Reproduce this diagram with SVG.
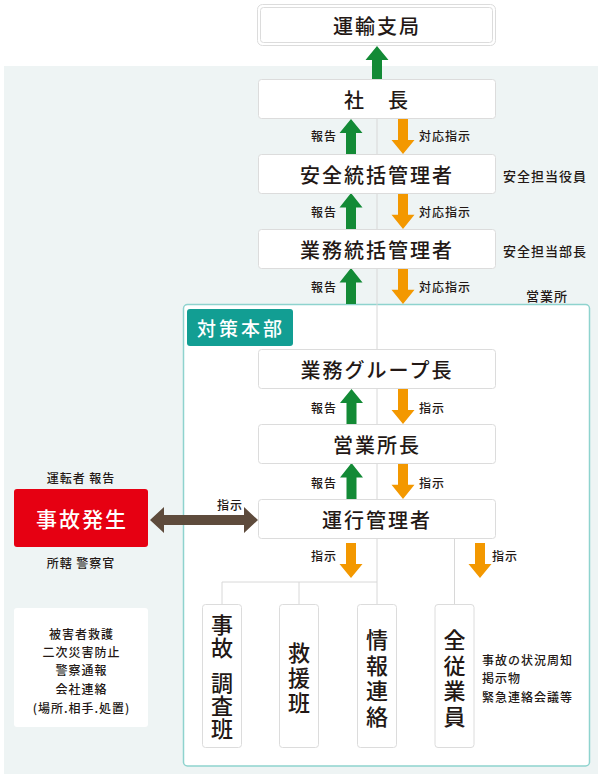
<svg xmlns="http://www.w3.org/2000/svg" width="602" height="780" viewBox="0 0 602 780">
<style>
text{font-family:"Noto Sans CJK JP","Noto Sans",sans-serif;fill:#231815}
.box{fill:#fff;stroke:#dcdcdc;stroke-width:1}
.t{font-size:20px;font-weight:500;letter-spacing:2px;text-anchor:middle;dominant-baseline:central}
.v{font-size:22px;font-weight:500;text-anchor:middle;dominant-baseline:central;writing-mode:vertical-rl;glyph-orientation-vertical:0}
.s{font-size:12px;font-weight:500;letter-spacing:1px;dominant-baseline:central}
.m{font-size:13px;font-weight:500;letter-spacing:1px;dominant-baseline:central}
.g{fill:#138a36}
.o{fill:#f39800}
.ln{stroke:#d8d8d8;stroke-width:1;fill:none}
</style>
<defs>
<path id="up" d="M0,0 L11.5,14 L5,14 L5,35 L-5,35 L-5,14 L-11.5,14 Z"/>
<path id="dn" d="M0,35 L11.5,21 L5,21 L5,0 L-5,0 L-5,21 L-11.5,21 Z"/>
</defs>
<rect x="4" y="66" width="594" height="708" fill="#eef4f4"/>
<g id="eigyosho">
<rect x="183.5" y="304.5" width="406" height="461.5" rx="4" fill="#fff" stroke="#8ed3ce" stroke-width="1.5"/>
<text class="m" x="526" y="295">営業所</text>
</g>
<g id="connectors">
<path class="ln" d="M377,118 V582 M222,604 V582 H377 V604 M299,582 V604 M454.5,538 V604"/>
<path class="g" d="M377,46 L388.5,60 L382,60 L382,79 L372,79 L372,60 L365.5,60 Z"/>
<use href="#up" class="g" transform="translate(351,119)"/>
<use href="#up" class="g" transform="translate(351,193) scale(1,1.03)"/>
<use href="#up" class="g" transform="translate(351,268) scale(1,1.03)"/>
<use href="#up" class="g" transform="translate(351.5,389)"/>
<use href="#up" class="g" transform="translate(351.5,463) scale(1,1.03)"/>
<use href="#dn" class="o" transform="translate(403,119)"/>
<use href="#dn" class="o" transform="translate(403,193) scale(1,1.03)"/>
<use href="#dn" class="o" transform="translate(403,268) scale(1,1.03)"/>
<use href="#dn" class="o" transform="translate(403,389)"/>
<use href="#dn" class="o" transform="translate(403,463) scale(1,1.03)"/>
<use href="#dn" class="o" transform="translate(351,543)"/>
<use href="#dn" class="o" transform="translate(480,543)"/>
<path fill="#5e4b3c" d="M150,520 L164,507 L164,515 L244,515 L244,507 L258,520 L244,533 L244,525 L164,525 L164,533 Z"/>
<text class="s" x="337" y="135" text-anchor="end">報告</text>
<text class="s" x="337" y="211" text-anchor="end">報告</text>
<text class="s" x="337" y="286" text-anchor="end">報告</text>
<text class="s" x="337" y="407" text-anchor="end">報告</text>
<text class="s" x="337" y="482" text-anchor="end">報告</text>
<text class="s" x="419" y="135">対応指示</text>
<text class="s" x="419" y="211">対応指示</text>
<text class="s" x="419" y="286">対応指示</text>
<text class="s" x="419" y="407">指示</text>
<text class="s" x="419" y="482">指示</text>
<text class="s" x="217" y="504">指示</text>
<text class="s" x="337" y="555" text-anchor="end">指示</text>
<text class="s" x="492" y="555">指示</text>
</g>
<g id="unyu">
<rect x="257.5" y="4.5" width="238" height="41" rx="5" fill="#fff" stroke="#dcdcdc"/>
<rect x="260.5" y="7.5" width="232" height="35" rx="3" fill="none" stroke="#dcdcdc"/>
<text class="t" x="377" y="25">運輸支局</text>
</g>
<g id="shacho">
<rect class="box" x="258.5" y="79.5" width="237" height="39" rx="3"/>
<text class="t" x="377" y="99">社　長</text>
</g>
<g id="anzen">
<rect class="box" x="258.5" y="154.5" width="237" height="39" rx="3"/>
<text class="t" x="377" y="174">安全統括管理者</text>
<text class="m" x="503" y="175">安全担当役員</text>
</g>
<g id="gyomu">
<rect class="box" x="258.5" y="229.5" width="237" height="39" rx="3"/>
<text class="t" x="377" y="249">業務統括管理者</text>
<text class="m" x="503" y="250">安全担当部長</text>
</g>
<g id="taisaku">
<rect x="187" y="309" width="106" height="37" rx="3" fill="#129e93"/>
<text class="t" x="241" y="327" style="fill:#fff;font-size:19px;letter-spacing:3px">対策本部</text>
</g>
<g id="group">
<rect class="box" x="258.5" y="349.5" width="237" height="39" rx="3"/>
<text class="t" x="377" y="369">業務グループ長</text>
</g>
<g id="shocho">
<rect class="box" x="258.5" y="424.5" width="237" height="39" rx="3"/>
<text class="t" x="377" y="444">営業所長</text>
</g>
<g id="unko">
<rect class="box" x="258.5" y="499.5" width="237" height="39" rx="3"/>
<text class="t" x="377" y="519">運行管理者</text>
</g>
<g id="jiko">
<rect x="14" y="489" width="134" height="58" rx="3" fill="#e60012"/>
<text class="t" x="82" y="518" style="fill:#fff;font-size:21px">事故発生</text>
<text class="s" x="81" y="477" text-anchor="middle">運転者 報告</text>
<text class="s" x="81" y="562" text-anchor="middle">所轄 警察官</text>
</g>
<g id="memo">
<rect x="14" y="608" width="134" height="119" rx="3" fill="#fff"/>
<text class="s" x="81.5" y="633" text-anchor="middle">被害者救護</text>
<text class="s" x="81.5" y="651" text-anchor="middle">二次災害防止</text>
<text class="s" x="81.5" y="669" text-anchor="middle">警察通報</text>
<text class="s" x="81.5" y="688" text-anchor="middle">会社連絡</text>
<text class="s" x="81.5" y="707" text-anchor="middle">(場所.相手.処置)</text>
</g>
<g id="chosa">
<rect class="box" x="202.5" y="604.5" width="39" height="143" rx="3"/>
<text class="v" x="222" y="637" style="letter-spacing:1px">事故</text>
<text class="v" x="222" y="706.5" style="letter-spacing:1px">調査班</text>
</g>
<g id="kyuen">
<rect class="box" x="279.5" y="604.5" width="39" height="143" rx="3"/>
<text class="v" x="299" y="679.5" style="letter-spacing:3px">救援班</text>
</g>
<g id="joho">
<rect class="box" x="357.5" y="604.5" width="39" height="143" rx="3"/>
<text class="v" x="377" y="680" style="letter-spacing:3.5px">情報連絡</text>
</g>
<g id="zenjugyoin">
<rect class="box" x="435" y="604.5" width="39" height="143" rx="3"/>
<text class="v" x="454.5" y="680" style="letter-spacing:3.5px">全従業員</text>
<text class="s" x="482" y="659">事故の状況周知</text>
<text class="s" x="482" y="677">掲示物</text>
<text class="s" x="482" y="696">緊急連絡会議等</text>
</g>
</svg>
